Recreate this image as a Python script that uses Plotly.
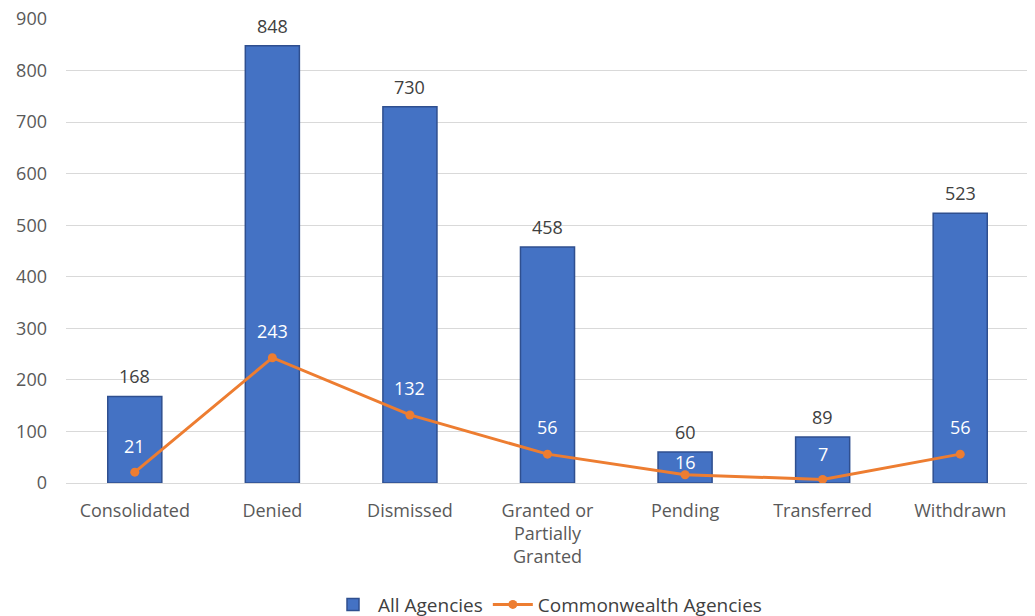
import plotly.graph_objects as go

categories = ["Consolidated", "Denied", "Dismissed", "Granted or<br>Partially<br>Granted",
              "Pending", "Transferred", "Withdrawn"]
all_agencies = [168, 848, 730, 458, 60, 89, 523]
commonwealth = [21, 243, 132, 56, 16, 7, 56]

# label offsets (pixels above the point), style only
line_label_shift = [26, 27, 27, 27, 13, 25, 27]

FONT = "Open Sans"
SIZE = 18
fig = go.Figure()
fig.add_trace(go.Bar(
    x=categories, y=all_agencies, name="All Agencies",
    marker=dict(color="#4472C4", line=dict(color="#2F4F8F", width=1.5)),
    cliponaxis=False,
))
fig.add_trace(go.Scatter(
    x=categories, y=commonwealth, name="Commonwealth Agencies",
    mode="lines+markers",
    line=dict(color="#ED7D31", width=3),
    marker=dict(color="#ED7D31", size=9),
))
for c, v in zip(categories, all_agencies):
    fig.add_annotation(x=c, y=v, text=str(v), showarrow=False, yshift=20,
                       font=dict(family=FONT, size=SIZE, color="#404040"))
for c, v, s in zip(categories, commonwealth, line_label_shift):
    fig.add_annotation(x=c, y=v, text=str(v), showarrow=False, yshift=s,
                       font=dict(family=FONT, size=SIZE, color="white"))

fig.update_layout(
    width=1035, height=616,
    margin=dict(l=58, r=14, t=11, b=141, autoexpand=False),
    paper_bgcolor="white", plot_bgcolor="white",
    bargap=0.607,
    font=dict(family=FONT, size=SIZE, color="#595959"),
    showlegend=True,
    legend=dict(orientation="h", x=0.5, xanchor="center", y=-0.262, yanchor="middle",
                font=dict(family=FONT, size=SIZE + 1, color="#404040"), traceorder="normal",
                itemwidth=40),
    xaxis=dict(showgrid=False, showline=True, linecolor="#D9D9D9", linewidth=1,
               tickfont=dict(family=FONT, size=SIZE, color="#595959"), ticks="",
               automargin=False, ticklabelstandoff=11, ticklabeloverflow="allow"),
    yaxis=dict(range=[0, 900], dtick=100, showgrid=True, gridcolor="#D9D9D9",
               zeroline=False, showline=False, automargin=False,
               tickfont=dict(family=FONT, size=SIZE, color="#595959"), ticks="",
               ticklabelstandoff=18, ticklabeloverflow="allow"),
)
fig.write_html("out.html")
